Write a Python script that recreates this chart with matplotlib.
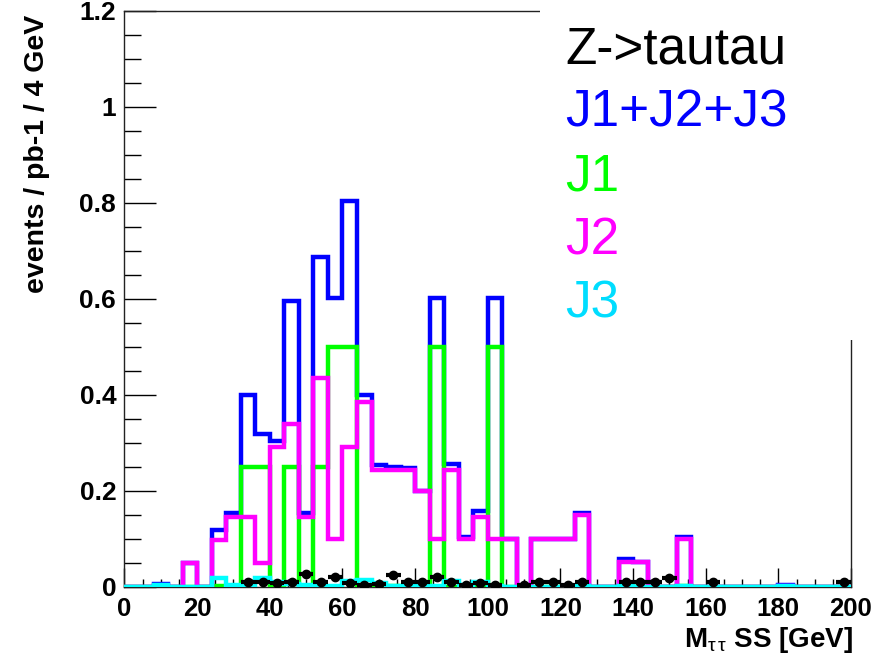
import matplotlib
matplotlib.use("Agg")
import matplotlib.pyplot as plt
import matplotlib.ticker as tic
import numpy as np
from matplotlib.patches import Rectangle

plt.rcParams['font.family'] = ['Liberation Sans', 'DejaVu Sans']
plt.rcParams['mathtext.fontset'] = 'custom'
plt.rcParams['mathtext.rm'] = 'Liberation Sans'
plt.rcParams['mathtext.it'] = 'Liberation Sans'

# 50 bins of 4 GeV from 0 to 200
edges = np.arange(0, 204, 4)

# J1 sample
j1 = [0, 0, 0, 0, 0, 0, 0.003, 0.003, 0.25, 0.25,
      0.003, 0.25, 0.003, 0.25, 0.5, 0.5, 0, 0.003, 0.003, 0,
      0, 0.5, 0, 0, 0.003, 0.5, 0, 0, 0, 0,
      0, 0.003, 0, 0, 0.003, 0, 0, 0, 0.003, 0,
      0, 0, 0, 0, 0, 0, 0, 0, 0, 0]

# J2 sample
j2 = [0, 0, 0.002, 0, 0.05, 0, 0.098, 0.146, 0.146, 0.05,
      0.292, 0.339, 0.146, 0.435, 0.1, 0.292, 0.386, 0.244, 0.244, 0.244,
      0.199, 0.1, 0.244, 0.1, 0.146, 0.1, 0.1, 0, 0.1, 0.1,
      0.1, 0.15, 0, 0, 0.053, 0.053, 0, 0, 0.1, 0,
      0, 0, 0, 0, 0, 0.002, 0, 0, 0, 0]

# J3 sample
j3 = [0, 0, 0.004, 0, 0, 0, 0.018, 0.005, 0.003, 0.018,
      0.01, 0.006, 0.005, 0.002, 0.003, 0.012, 0.015, 0.008, 0.003, 0.003,
      0.002, 0.003, 0.012, 0.004, 0.01, 0.003, 0, 0, 0, 0,
      0, 0.002, 0, 0, 0.002, 0, 0, 0, 0.002, 0,
      0, 0, 0, 0, 0, 0.003, 0, 0, 0, 0]

# Z->tautau points
ztt = [0, 0, 0, 0, 0, 0, 0, 0, 0.01, 0.01,
       0.008, 0.01, 0.027, 0.01, 0.02, 0.008, 0.005, 0.006, 0.025, 0.01,
       0.01, 0.02, 0.01, 0.004, 0.008, 0.005, 0, 0.004, 0.01, 0.01,
       0.004, 0.01, 0, 0, 0.01, 0.01, 0.01, 0.018, 0, 0,
       0.01, 0, 0, 0, 0, 0, 0, 0, 0, 0.01]

legend_labels = ['Z->tautau', 'J1+J2+J3', 'J1', 'J2', 'J3']
legend_colors = ['black', '#0000ff', '#00ff00', '#ff00ff', '#00ddff']

total = np.array(j1) + np.array(j2) + np.array(j3)
centers = 0.5 * (edges[:-1] + edges[1:])
ztt = np.array(ztt)
mask = ztt > 0

fig = plt.figure(figsize=(8.95, 6.56), dpi=100)
ax = fig.add_axes([124.5/895, 1-587/656, (851-124.5)/895, (587-11)/656])

lw = 3.2
ax.stairs(total, edges, baseline=0, color='#0000ff', lw=lw, zorder=2)
ax.stairs(j1, edges, baseline=0, color='#00ff00', lw=lw, zorder=3)
ax.stairs(j2, edges, baseline=0, color='#ff00ff', lw=lw, zorder=4)
ax.stairs(j3, edges, baseline=0, color='#00ffff', lw=lw, zorder=5)
ax.errorbar(centers[mask], ztt[mask], xerr=2, fmt='o', color='black',
            markersize=6, elinewidth=3, capsize=0, zorder=6)

ax.set_xlim(0, 200)
ax.set_ylim(0, 1.2)
ax.xaxis.set_major_locator(tic.MultipleLocator(20))
ax.xaxis.set_minor_locator(tic.MultipleLocator(5))
ax.yaxis.set_major_locator(tic.MultipleLocator(0.2))
ax.yaxis.set_minor_locator(tic.MultipleLocator(0.05))
ax.yaxis.set_major_formatter(tic.FormatStrFormatter('%g'))
ax.tick_params(axis='y', which='major', direction='in', length=23, width=1, labelsize=19, pad=6)
ax.tick_params(axis='y', which='minor', direction='in', length=12, width=1)
ax.tick_params(axis='x', which='major', direction='in', length=14, width=1, labelsize=18.5, pad=7)
ax.tick_params(axis='x', which='minor', direction='in', length=6, width=1)
for lab in ax.get_xticklabels() + ax.get_yticklabels():
    lab.set_fontweight('bold')
for s in ax.spines.values():
    s.set_linewidth(1)
    s.set_color('#222222')

fig.text(37/895, 1-15/656, 'events / pb-1 / 4 GeV', fontsize=20.5,
         fontweight='bold', rotation=90, ha='center', va='top')
fig.text(853/895, 1-647/656, r'M$_{\tau\,\tau}$ SS [GeV]', fontsize=20,
         fontweight='bold', ha='right', va='baseline')

# white legend box over the top-right corner
fig.patches.append(Rectangle((540/895, 1-340/656), 1, 1, transform=fig.transFigure,
                             facecolor='white', edgecolor='none', zorder=10))
for i, (lab, col) in enumerate(zip(legend_labels, legend_colors)):
    fig.text(565/895, 1-(63+63.7*i)/656, lab, fontsize=37, color=col,
             ha='left', va='baseline', zorder=11)

fig.savefig('out.png', dpi=100)
